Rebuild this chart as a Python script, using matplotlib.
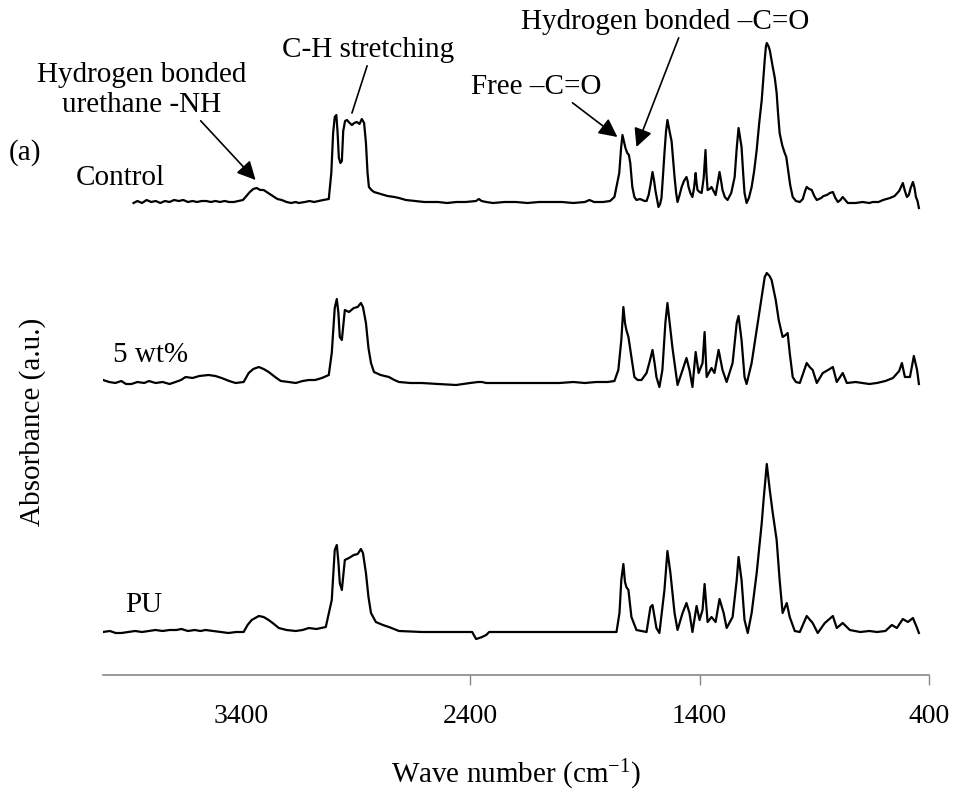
import matplotlib
matplotlib.use("Agg")
import matplotlib.pyplot as plt

# FTIR spectra (wave number cm-1, absorbance a.u. above each trace's baseline)
control = [
    (3867, 0.00), (3850, 0.02), (3830, 0.00), (3810, 0.03), (3790, 0.01), (3770, 0.02),
    (3750, 0.00), (3730, 0.02), (3710, 0.01), (3690, 0.03), (3670, 0.02), (3650, 0.03),
    (3630, 0.01), (3610, 0.02), (3590, 0.01), (3570, 0.02), (3550, 0.02), (3530, 0.01),
    (3510, 0.02), (3490, 0.01), (3470, 0.02), (3450, 0.01), (3430, 0.01), (3410, 0.02),
    (3390, 0.03), (3375, 0.07), (3360, 0.11), (3345, 0.14), (3330, 0.15), (3315, 0.13),
    (3300, 0.13), (3280, 0.10), (3260, 0.07), (3240, 0.04), (3221, 0.03), (3200, 0.01),
    (3180, 0.00), (3160, 0.01), (3147, 0.00), (3120, 0.01), (3100, 0.02), (3080, 0.01),
    (3060, 0.02), (3040, 0.03), (3016, 0.04), (3005, 0.30), (2997, 0.70), (2990, 0.86),
    (2983, 0.88), (2978, 0.72), (2972, 0.45), (2965, 0.40), (2959, 0.42), (2953, 0.72),
    (2945, 0.82), (2937, 0.83), (2925, 0.80), (2915, 0.78), (2905, 0.80), (2894, 0.81),
    (2882, 0.79), (2872, 0.84), (2862, 0.80), (2854, 0.60), (2847, 0.30), (2841, 0.16),
    (2830, 0.13), (2819, 0.11), (2790, 0.09), (2760, 0.07), (2730, 0.06), (2710, 0.05),
    (2680, 0.03), (2640, 0.02), (2600, 0.01), (2579, 0.01), (2540, 0.01), (2500, 0.00),
    (2460, 0.01), (2420, 0.01), (2374, 0.02), (2362, 0.04), (2350, 0.02), (2330, 0.01),
    (2300, 0.00), (2250, 0.01), (2200, 0.01), (2150, 0.00), (2100, 0.01), (2050, 0.01),
    (2000, 0.01), (1950, 0.00), (1900, 0.01), (1880, 0.03), (1860, 0.01), (1820, 0.01),
    (1790, 0.02), (1771, 0.06), (1750, 0.30), (1742, 0.55), (1736, 0.68), (1730, 0.62),
    (1723, 0.55), (1715, 0.50), (1708, 0.48), (1702, 0.40), (1693, 0.16), (1684, 0.06),
    (1675, 0.03), (1660, 0.04), (1649, 0.03), (1640, 0.02), (1631, 0.02), (1622, 0.08),
    (1614, 0.18), (1605, 0.31), (1598, 0.22), (1592, 0.12), (1584, 0.02), (1579, -0.04),
    (1572, -0.01), (1566, 0.05), (1560, 0.25), (1553, 0.50), (1546, 0.72), (1540, 0.83),
    (1531, 0.72), (1522, 0.62), (1515, 0.42), (1509, 0.26), (1502, 0.10), (1496, 0.01),
    (1487, 0.08), (1478, 0.16), (1468, 0.22), (1457, 0.26), (1452, 0.22), (1448, 0.16),
    (1440, 0.10), (1431, 0.06), (1424, 0.15), (1417, 0.30), (1413, 0.20), (1409, 0.13),
    (1400, 0.11), (1391, 0.10), (1382, 0.25), (1374, 0.53), (1370, 0.30), (1365, 0.13),
    (1356, 0.14), (1348, 0.16), (1339, 0.12), (1330, 0.08), (1321, 0.20), (1313, 0.31),
    (1306, 0.22), (1300, 0.13), (1290, 0.06), (1278, 0.03), (1262, 0.10), (1247, 0.26),
    (1238, 0.55), (1230, 0.75), (1224, 0.66), (1217, 0.56), (1210, 0.30), (1204, 0.10),
    (1195, 0.00), (1185, 0.05), (1173, 0.16), (1162, 0.32), (1151, 0.53), (1140, 0.80),
    (1129, 1.03), (1122, 1.25), (1116, 1.43), (1111, 1.56), (1107, 1.60), (1100, 1.57),
    (1094, 1.53), (1088, 1.45), (1081, 1.36), (1072, 1.25), (1064, 1.10), (1058, 0.90),
    (1051, 0.70), (1040, 0.58), (1029, 0.50), (1022, 0.46), (1016, 0.36), (1005, 0.18),
    (994, 0.06), (980, 0.02), (963, 0.01), (950, 0.04), (940, 0.12), (933, 0.16),
    (922, 0.14), (911, 0.13), (900, 0.07), (889, 0.03), (870, 0.05), (860, 0.07),
    (845, 0.08), (832, 0.10), (819, 0.11), (808, 0.05), (797, 0.01), (786, 0.03),
    (776, 0.06), (765, 0.03), (754, 0.00), (720, 0.00), (690, 0.01), (660, 0.00),
    (645, 0.01), (620, 0.01), (600, 0.03), (585, 0.04), (570, 0.05), (550, 0.07),
    (530, 0.12), (522, 0.16), (514, 0.20), (505, 0.12), (496, 0.06), (488, 0.08),
    (480, 0.15), (470, 0.21), (463, 0.15), (457, 0.06), (450, 0.02), (444, -0.05),
]

wt5 = [
    (4000, 0.03), (3973, 0.01), (3946, 0.00), (3920, 0.02), (3900, -0.01), (3876, -0.01),
    (3850, 0.01), (3820, 0.00), (3800, 0.02), (3771, 0.00), (3740, 0.01), (3710, -0.01),
    (3684, 0.01), (3660, 0.03), (3640, 0.06), (3610, 0.05), (3580, 0.07), (3540, 0.08),
    (3510, 0.07), (3483, 0.05), (3450, 0.02), (3422, 0.00), (3387, 0.01), (3365, 0.10),
    (3345, 0.14), (3321, 0.16), (3300, 0.14), (3278, 0.11), (3250, 0.06), (3225, 0.02),
    (3190, 0.01), (3160, 0.00), (3130, 0.02), (3103, 0.03), (3075, 0.03), (3046, 0.05),
    (3016, 0.08), (3003, 0.30), (2990, 0.75), (2981, 0.84), (2974, 0.70), (2968, 0.46),
    (2959, 0.43), (2946, 0.73), (2928, 0.71), (2907, 0.75), (2890, 0.76), (2876, 0.80),
    (2867, 0.76), (2854, 0.60), (2843, 0.35), (2832, 0.20), (2819, 0.11), (2790, 0.08),
    (2754, 0.06), (2730, 0.03), (2710, 0.01), (2660, 0.00), (2610, 0.00), (2540, -0.01),
    (2461, -0.02), (2400, 0.00), (2365, 0.01), (2348, 0.01), (2330, 0.00), (2273, 0.00),
    (2200, 0.00), (2100, 0.00), (2011, 0.00), (1950, 0.01), (1900, 0.00), (1850, 0.01),
    (1800, 0.01), (1771, 0.02), (1754, 0.13), (1741, 0.43), (1732, 0.76), (1725, 0.60),
    (1719, 0.53), (1710, 0.46), (1697, 0.26), (1684, 0.06), (1670, 0.03), (1653, 0.03),
    (1631, 0.10), (1618, 0.21), (1605, 0.33), (1596, 0.20), (1588, 0.06), (1575, -0.04),
    (1562, 0.13), (1549, 0.60), (1540, 0.80), (1527, 0.53), (1518, 0.35), (1509, 0.20),
    (1496, -0.02), (1474, 0.13), (1457, 0.25), (1444, 0.13), (1431, -0.04), (1417, 0.31),
    (1404, 0.10), (1387, 0.20), (1378, 0.51), (1369, 0.06), (1348, 0.15), (1335, 0.10),
    (1317, 0.33), (1300, 0.13), (1282, 0.01), (1256, 0.20), (1238, 0.60), (1230, 0.67),
    (1217, 0.43), (1204, 0.06), (1195, -0.01), (1173, 0.20), (1151, 0.53), (1129, 0.86),
    (1116, 1.06), (1107, 1.10), (1095, 1.07), (1086, 1.03), (1068, 0.83), (1055, 0.63),
    (1038, 0.46), (1025, 0.48), (1016, 0.50), (1007, 0.30), (994, 0.06), (980, 0.01),
    (963, 0.00), (945, 0.12), (933, 0.20), (920, 0.16), (907, 0.13), (889, 0.00),
    (863, 0.10), (840, 0.13), (819, 0.16), (802, 0.01), (776, 0.10), (758, 0.00),
    (720, 0.01), (690, 0.00), (660, -0.01), (627, 0.00), (590, 0.02), (557, 0.05),
    (530, 0.12), (518, 0.20), (505, 0.06), (483, 0.06), (466, 0.27), (452, 0.13),
    (444, -0.01),
]

pu = [
    (4000, 0.00), (3970, 0.01), (3945, -0.01), (3920, -0.01), (3890, 0.00), (3860, 0.01),
    (3830, 0.00), (3800, 0.01), (3771, 0.02), (3740, 0.01), (3710, 0.02), (3680, 0.02),
    (3658, 0.03), (3630, 0.01), (3600, 0.02), (3575, 0.01), (3553, 0.02), (3520, 0.01),
    (3490, 0.00), (3453, -0.01), (3420, 0.00), (3387, 0.00), (3370, 0.07), (3352, 0.12),
    (3321, 0.16), (3300, 0.15), (3278, 0.12), (3255, 0.08), (3234, 0.04), (3200, 0.02),
    (3160, 0.01), (3130, 0.02), (3103, 0.04), (3070, 0.03), (3029, 0.05), (3003, 0.32),
    (2990, 0.82), (2981, 0.87), (2974, 0.70), (2968, 0.49), (2959, 0.42), (2946, 0.72),
    (2928, 0.74), (2907, 0.77), (2890, 0.78), (2876, 0.83), (2867, 0.79), (2854, 0.59),
    (2843, 0.35), (2832, 0.19), (2811, 0.10), (2780, 0.07), (2754, 0.05), (2710, 0.01),
    (2610, 0.00), (2500, 0.00), (2391, 0.00), (2374, -0.07), (2360, -0.06), (2348, -0.05),
    (2330, -0.03), (2317, 0.00), (2200, 0.00), (2100, 0.00), (2011, 0.00), (1900, 0.00),
    (1800, 0.00), (1762, 0.00), (1749, 0.19), (1741, 0.52), (1732, 0.68), (1725, 0.50),
    (1719, 0.45), (1710, 0.42), (1697, 0.15), (1675, 0.02), (1631, 0.00), (1614, 0.25),
    (1605, 0.27), (1588, 0.04), (1575, -0.01), (1553, 0.42), (1540, 0.81), (1527, 0.59),
    (1509, 0.19), (1496, 0.02), (1474, 0.19), (1457, 0.29), (1444, 0.19), (1431, 0.00),
    (1413, 0.26), (1400, 0.12), (1387, 0.22), (1378, 0.48), (1365, 0.10), (1348, 0.15),
    (1330, 0.10), (1313, 0.33), (1295, 0.19), (1282, 0.04), (1256, 0.15), (1238, 0.52),
    (1230, 0.75), (1217, 0.52), (1204, 0.12), (1190, -0.01), (1173, 0.19), (1151, 0.59),
    (1129, 1.09), (1121, 1.32), (1107, 1.68), (1094, 1.42), (1081, 1.19), (1064, 0.92),
    (1051, 0.52), (1038, 0.19), (1020, 0.29), (1007, 0.15), (985, 0.01), (963, 0.00),
    (933, 0.16), (907, 0.09), (885, -0.01), (854, 0.09), (819, 0.16), (802, 0.04),
    (776, 0.09), (745, 0.02), (700, 0.00), (660, 0.01), (627, 0.00), (590, 0.01),
    (562, 0.07), (540, 0.04), (514, 0.13), (492, 0.10), (470, 0.14), (452, 0.04),
    (444, -0.01),
]

series = [control, wt5, pu]
labels = ["Control", "5 wt%", "PU"]
offsets = [4.72, 2.92, 0.43]
ticks = [3400, 2400, 1400, 400]

plt.rcParams["font.family"] = ["Liberation Serif", "DejaVu Serif"]
plt.rcParams["mathtext.fontset"] = "custom"
plt.rcParams["mathtext.rm"] = "Liberation Serif"
plt.rcParams["mathtext.it"] = "Liberation Serif:italic"

fig = plt.figure(figsize=(9.57, 8.0), dpi=100)
ax = fig.add_axes([103 / 957, 125 / 800, 826 / 957, 645 / 800])

for data, off in zip(series, offsets):
    wn = [p[0] for p in data]
    ab = [p[1] + off for p in data]
    ax.plot(wn, ab, color="black", lw=1.6)

ax.set_xlim(4000, 400)
ax.set_ylim(0, 6.45)
ax.set_xticks(ticks)
ax.set_xticklabels([str(t) for t in ticks], fontsize=20)
ax.tick_params(axis="x", direction="out", length=7, width=1, color="#888888", pad=14)
ax.xaxis.get_major_ticks()[0].tick1line.set_visible(False)
ax.set_yticks([])
for s in ["top", "right", "left"]:
    ax.spines[s].set_visible(False)
ax.spines["bottom"].set_color("#888888")
ax.spines["bottom"].set_linewidth(1.2)

fig.text(516 / 957, 25 / 800, r"Wave number (cm$^{\mathrm{-1}}$)", fontsize=21,
         ha="center", va="center")
fig.text(33 / 957, 378 / 800, "Absorbance (a.u.)", fontsize=21, rotation=90,
         ha="center", va="center")

# trace names
ax.text(3924, 4.97, "Control", fontsize=21, ha="center", va="center")
ax.text(3793, 3.20, "5 wt%", fontsize=21, ha="center", va="center")
ax.text(3824, 0.70, "PU", fontsize=21, ha="center", va="center")
ax.text(4339, 5.22, "(a)", fontsize=21, ha="center", va="center")

head = dict(arrowstyle="-|>", mutation_scale=28, color="black", lw=1.2,
            shrinkA=0, shrinkB=0)
ax.annotate("Hydrogen bonded\nurethane -NH", xy=(3335, 4.95), xytext=(3832, 5.85),
            fontsize=21, ha="center", va="center", multialignment="center",
            arrowprops=dict(head, relpos=(0.77, 0.0)))
ax.annotate("C-H stretching", xy=(2915, 5.62), xytext=(2845, 6.25),
            fontsize=21, ha="center", va="center",
            arrowprops=dict(arrowstyle="-", color="black", lw=1.2, shrinkA=0, shrinkB=0,
                            relpos=(0.5, 0.0)))
ax.annotate("Free \u2013C=O", xy=(1758, 5.38), xytext=(2112, 5.88),
            fontsize=21, ha="center", va="center",
            arrowprops=dict(head, relpos=(0.75, 0.0)))
ax.annotate("Hydrogen bonded \u2013C=O", xy=(1675, 5.28), xytext=(1549, 6.53),
            fontsize=21, ha="center", va="center",
            arrowprops=dict(head, relpos=(0.55, 0.0)))

fig.savefig("out.png", dpi=100)
